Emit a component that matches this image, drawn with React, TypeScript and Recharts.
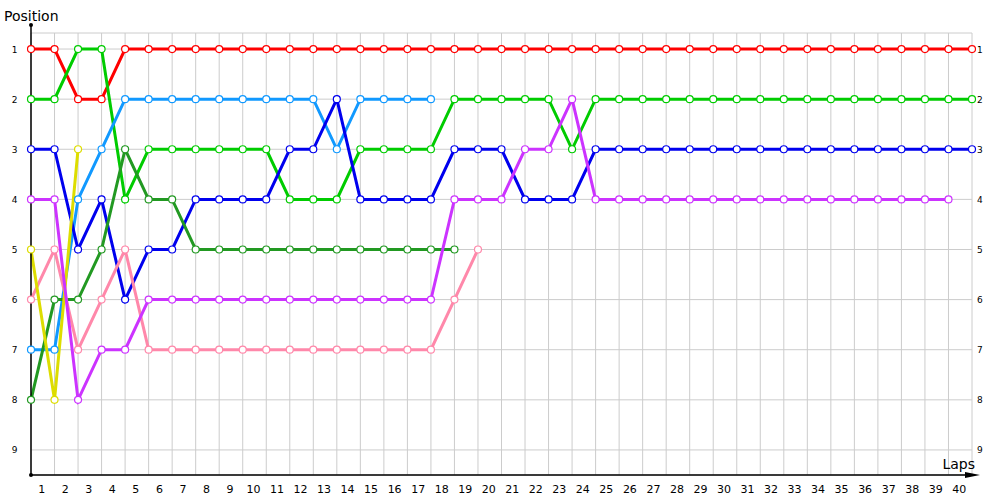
import React from 'react';
import { LineChart, Line, XAxis, YAxis, CartesianGrid } from 'recharts';

// positions after each lap (index 0 = grid)
const red = [1, 1, 2, 2, 1, 1, 1, 1, 1, 1, 1, 1, 1, 1, 1, 1, 1, 1, 1, 1, 1, 1, 1, 1, 1, 1, 1, 1, 1, 1, 1, 1, 1, 1, 1, 1, 1, 1, 1, 1, 1];
const green = [2, 2, 1, 1, 4, 3, 3, 3, 3, 3, 3, 4, 4, 4, 3, 3, 3, 3, 2, 2, 2, 2, 2, 3, 2, 2, 2, 2, 2, 2, 2, 2, 2, 2, 2, 2, 2, 2, 2, 2, 2];
const lightBlue = [7, 7, 4, 3, 2, 2, 2, 2, 2, 2, 2, 2, 2, 3, 2, 2, 2, 2];
const blue = [3, 3, 5, 4, 6, 5, 5, 4, 4, 4, 4, 3, 3, 2, 4, 4, 4, 4, 3, 3, 3, 4, 4, 4, 3, 3, 3, 3, 3, 3, 3, 3, 3, 3, 3, 3, 3, 3, 3, 3, 3];
const darkGreen = [8, 6, 6, 5, 3, 4, 4, 5, 5, 5, 5, 5, 5, 5, 5, 5, 5, 5, 5];
const pink = [6, 5, 7, 6, 5, 7, 7, 7, 7, 7, 7, 7, 7, 7, 7, 7, 7, 7, 6, 5];
const yellow = [5, 8, 3];
const purple = [4, 4, 8, 7, 7, 6, 6, 6, 6, 6, 6, 6, 6, 6, 6, 6, 6, 6, 4, 4, 4, 3, 3, 2, 4, 4, 4, 4, 4, 4, 4, 4, 4, 4, 4, 4, 4, 4, 4, 4];

const lapTicks = [1, 2, 3, 4, 5, 6, 7, 8, 9, 10, 11, 12, 13, 14, 15, 16, 17, 18, 19, 20, 21, 22, 23, 24, 25, 26, 27, 28, 29, 30, 31, 32, 33, 34, 35, 36, 37, 38, 39, 40];
const positionTicks = [1, 2, 3, 4, 5, 6, 7, 8, 9];

const series = [
  { key: 'red', values: red, color: '#ff0000' },
  { key: 'green', values: green, color: '#00cc00' },
  { key: 'lightBlue', values: lightBlue, color: '#1199ff' },
  { key: 'blue', values: blue, color: '#0000ee' },
  { key: 'darkGreen', values: darkGreen, color: '#229922' },
  { key: 'pink', values: pink, color: '#ff88aa' },
  { key: 'yellow', values: yellow, color: '#dddd00' },
  { key: 'purple', values: purple, color: '#cc33ff' },
];

const data = red.map((_, lap) => {
  const row: Record<string, number | null> = { lap };
  series.forEach((s) => {
    row[s.key] = lap < s.values.length ? s.values[lap] : null;
  });
  return row;
});

const W = 1000;
const H = 500;
const LEFT_W = 31;
const RIGHT_W = 28;
const STEP = (W - LEFT_W - RIGHT_W) / lapTicks.length;
const FONT = '"DejaVu Sans", Verdana, sans-serif';

const XTick = (props: any) => {
  const { x, y, payload } = props;
  return (
    <text x={x - STEP / 2 - 1} y={y + 10} textAnchor="middle" fontSize={11} fontFamily={FONT} fill="#000">
      {payload.value}
    </text>
  );
};

const LeftTick = (props: any) => {
  const { y, payload } = props;
  return (
    <text x={14.5} y={y + 3.5} textAnchor="middle" fontSize={9} fontFamily={FONT} fill="#000">
      {payload.value}
    </text>
  );
};

const RightTick = (props: any) => {
  const { y, payload } = props;
  return (
    <text x={977} y={y + 3.5} textAnchor="start" fontSize={9} fontFamily={FONT} fill="#000">
      {payload.value}
    </text>
  );
};

const YDecor = (props: any) => {
  const vb = props.viewBox || { x: 0, y: 33, width: 31, height: 442 };
  const ax = vb.x + vb.width;
  return (
    <g>
      <line x1={ax} y1={vb.y - 8} x2={ax} y2={vb.y + vb.height} stroke="#000" strokeWidth={1.5} />
      <circle cx={ax} cy={vb.y - 8} r={2} fill="#000" />
      <circle cx={ax} cy={vb.y + vb.height} r={2} fill="#000" />
      <text x={4} y={21} fontSize={14} fontFamily={FONT} fill="#000">
        Position
      </text>
    </g>
  );
};

const XDecor = (props: any) => {
  const vb = props.viewBox || { x: 31, y: 475, width: 941, height: 25 };
  const end = vb.x + vb.width;
  return (
    <g>
      <line x1={vb.x} y1={vb.y} x2={end - 4} y2={vb.y} stroke="#000" strokeWidth={1.5} />
      <polygon points={`${end - 7},${vb.y - 3} ${end + 8},${vb.y} ${end - 7},${vb.y + 3}`} fill="#000" />
      <text x={end + 3} y={vb.y - 6} textAnchor="end" fontSize={14} fontFamily={FONT} fill="#000">
        Laps
      </text>
    </g>
  );
};

export default function App() {
  return (
    <div style={{ position: 'absolute', left: 0, top: 0, background: '#fff' }}>
      <LineChart width={W} height={H} data={data} margin={{ top: 33, right: 0, bottom: 0, left: 0 }}>
        <CartesianGrid yAxisId="l" stroke="#cccccc" strokeWidth={1} />
        <XAxis
          dataKey="lap"
          type="number"
          domain={[0, 40]}
          ticks={lapTicks}
          interval={0}
          height={25}
          axisLine={false}
          tickLine={false}
          tick={<XTick />}
          label={{ content: XDecor } as any}
        />
        <YAxis
          yAxisId="l"
          type="number"
          domain={[0.68, 9.5]}
          reversed
          allowDataOverflow
          ticks={positionTicks}
          interval={0}
          width={LEFT_W}
          axisLine={false}
          tickLine={false}
          tick={<LeftTick />}
          label={{ content: YDecor } as any}
        />
        <YAxis
          yAxisId="r"
          orientation="right"
          type="number"
          domain={[0.68, 9.5]}
          reversed
          allowDataOverflow
          ticks={positionTicks}
          interval={0}
          width={RIGHT_W}
          axisLine={false}
          tickLine={false}
          tick={<RightTick />}
        />
        {series.map((s) => (
          <Line
            key={s.key}
            yAxisId="l"
            dataKey={s.key}
            type="linear"
            stroke={s.color}
            strokeWidth={3}
            dot={{ r: 3.5, fill: '#fff', stroke: s.color, strokeWidth: 1.2 }}
            activeDot={false}
            connectNulls={false}
            isAnimationActive={false}
          />
        ))}
      </LineChart>
    </div>
  );
}
